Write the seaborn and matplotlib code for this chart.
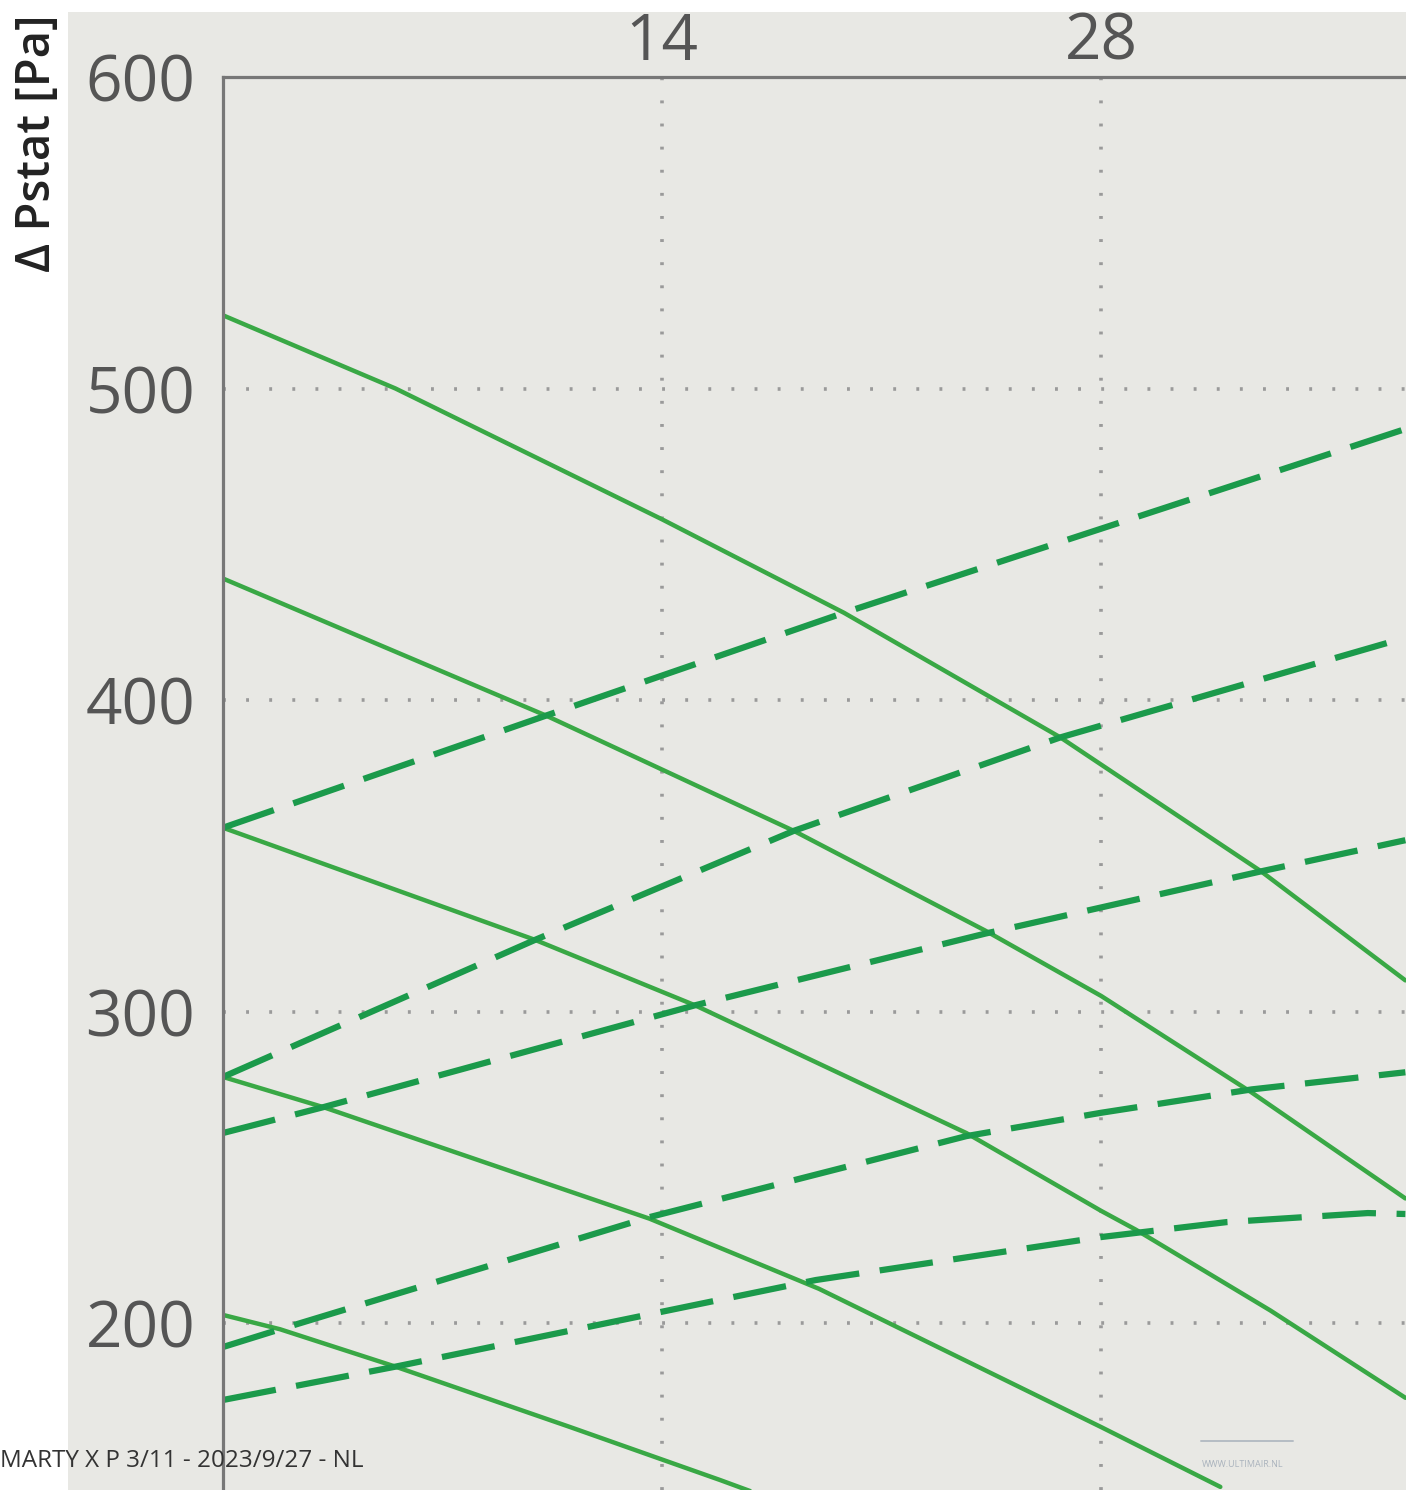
import pandas as pd
import matplotlib.pyplot as plt
import seaborn as sns
from matplotlib.patches import Rectangle
from matplotlib.lines import Line2D

# Fan curves (x = flow, y = Δ Pstat in Pa)
solid_x = [
    [0, 5.5, 14, 19.8, 26.7, 33.1, 37.7],
    [0, 10.3, 18.2, 24.3, 28, 32.8, 37.7],
    [0, 9.95, 15.05, 23.7, 28, 29.1, 33.4, 37.7],
    [0, 3.2, 13.6, 19.0, 28, 31.8],
    [0, 1.82, 5.5, 11.07, 15.85, 17.5],
]
solid_y = [
    [523.5, 500, 458, 428, 388, 345, 310],
    [439, 395, 358, 326, 305, 274, 240],
    [359, 323, 302, 261, 236, 230, 204, 176],
    [279, 269.3, 233.5, 211, 166.6, 147.4],
    [202.6, 198, 186, 166.6, 149.6, 143.5],
]
dashed_x = [
    [0, 10.3, 19.8, 28, 37.7],
    [0, 9.95, 18.2, 26.7, 37.7],
    [0, 3.2, 15.05, 24.3, 33.1, 37.7],
    [0, 1.82, 13.6, 23.7, 28, 32.8, 37.7],
    [0, 5.5, 18.9, 28, 32, 36.5, 37.7],
]
dashed_y = [
    [359, 395, 428, 455, 487],
    [279, 323, 358, 388, 420],
    [261, 269.3, 302, 325, 345, 355],
    [192.3, 198, 234, 260, 267.5, 275, 280.5],
    [175.3, 186, 213.8, 227.6, 232.4, 235.3, 235],
]
x_ticks = [14, 28]
y_ticks = [200, 300, 400, 500, 600]


def to_frame(xs, ys, prefix):
    rows = []
    for i, (cx, cy) in enumerate(zip(xs, ys)):
        for a, b in zip(cx, cy):
            rows.append({"x": a, "dp": b, "curve": f"{prefix}{i}"})
    return pd.DataFrame(rows)


df_solid = to_frame(solid_x, solid_y, "s")
df_dashed = to_frame(dashed_x, dashed_y, "d")

panel = "#e8e8e4"
sns.set_style("white")
plt.rcParams["font.family"] = ["Open Sans", "DejaVu Sans"]

fig = plt.figure(figsize=(14.06, 14.90), dpi=100)
fig.patch.set_facecolor("white")
# grey card behind the chart (white margin left and top)
fig.patches.append(Rectangle((68 / 1406, 0), 1, 1 - 12 / 1490, transform=fig.transFigure,
                             facecolor=panel, edgecolor="none", zorder=-10))

ax = fig.add_axes([223 / 1406, 0, 1 - 223 / 1406, 1 - 77 / 1490])
ax.set_facecolor(panel)

sns.lineplot(data=df_solid, x="x", y="dp", units="curve", estimator=None, sort=False,
             color="#39a845", linewidth=3.2, ax=ax, legend=False, zorder=3)
sns.lineplot(data=df_dashed, x="x", y="dp", units="curve", estimator=None, sort=False,
             color="#1b9a4b", linewidth=4.5, linestyle=(0, (8.6, 3.3)), ax=ax,
             legend=False, zorder=4)

ax.set_xlim(0, 37.72)
ax.set_ylim(146.4, 600)
ax.set_xticks(x_ticks)
ax.set_yticks(y_ticks)
ax.xaxis.tick_top()
ax.tick_params(axis="both", length=0, labelsize=46, labelcolor="#555555")
ax.tick_params(axis="x", pad=1.5)
ax.tick_params(axis="y", pad=20)
ax.set_xlabel("")
ax.set_ylabel("")

ax.grid(True, color="#9a9a9a", linewidth=2.6, linestyle=(0, (0.8, 5.6)), zorder=1)
for s in ["right", "bottom"]:
    ax.spines[s].set_visible(False)
for s in ["left", "top"]:
    ax.spines[s].set_color("#777777")
    ax.spines[s].set_linewidth(2.3)
    ax.spines[s].set_zorder(5)

fig.text(38 / 1406, 1 - 143 / 1490, "Δ Pstat [Pa]", rotation=90, ha="center", va="center",
         fontsize=34, fontweight="semibold", color="#222222")
fig.text(0, 1 - 1467 / 1490, "MARTY X P 3/11 - 2023/9/27 - NL", ha="left", va="baseline",
         fontsize=17.5, color="#333333", family=["Liberation Sans Narrow", "Open Sans", "DejaVu Sans"])
fig.lines.append(Line2D([1201 / 1406, 1293 / 1406], [1 - 1441 / 1490] * 2, transform=fig.transFigure,
                        color="#b5bcc4", linewidth=1.4))
fig.text(1202 / 1406, 1 - 1467 / 1490, "WWW.ULTIMAIR.NL", ha="left", va="baseline",
         fontsize=6.5, color="#aab3bd")

fig.savefig("out.png", dpi=100)
